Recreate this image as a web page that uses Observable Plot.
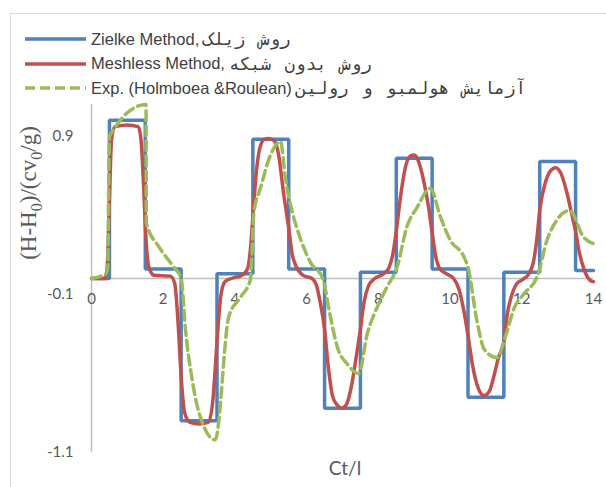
<!DOCTYPE html>
<html><head><meta charset="utf-8">
<script src="https://cdn.jsdelivr.net/npm/d3@7"></script>
<script src="https://cdn.jsdelivr.net/npm/@observablehq/plot@0.6"></script>
<style>
body{margin:0;background:#fff;}
#wrap{position:relative;width:606px;height:487px;overflow:hidden;background:#fff;}
#border{position:absolute;left:10px;top:13px;width:700px;height:600px;border:1.5px solid #d9d9d9;}
#chart{position:absolute;left:0;top:0;}
#legend{position:absolute;left:25px;top:27px;font-family:"Liberation Sans",Arial,sans-serif;font-size:16.5px;color:#404040;}
.row{height:24.5px;display:flex;align-items:center;white-space:nowrap;}
.row svg{margin-right:5px;flex:none;}
.fa{font-family:"DejaVu Sans Mono",monospace;font-size:17.5px;word-spacing:3px;padding-left:4px;}
#ytitle{position:absolute;left:31px;top:193px;transform:translate(-50%,-50%) rotate(-90deg);white-space:nowrap;font-family:"Liberation Serif","DejaVu Serif",serif;font-size:23px;color:#595959;}
#ytitle sub{font-size:70%;}
#xtitle{position:absolute;left:345px;top:467px;transform:translate(-50%,-50%);font-family:Lato,"Liberation Sans",sans-serif;font-size:19px;color:#595959;}
</style></head>
<body>
<div id="wrap">
  <div id="border"></div>
  <div id="chart"></div>
  <div id="legend"></div>
  <div id="ytitle">(H-H<sub>0</sub>)/(cv<sub>0</sub>/g)</div>
  <div id="xtitle">Ct/l</div>
</div>
<script>
// ---- data ----
const xTicks = [0, 2, 4, 6, 8, 10, 12, 14];
const yTicks = [0.9, -0.1, -1.1];
const seriesNames = [
  ["Zielke Method,", "روش زیلک"],
  ["Meshless Method,", "روش بدون شبکه"],
  ["Exp. (Holmboea &Roulean)", "آزمایش هولمبو و رولین"]
];
const seriesColors = ["#4F81BD", "#C0504D", "#9BBB59"];

// Zielke method: step boundaries and levels (step-after)
const zielkeX = [0, 0.5, 1.5, 2.5, 3.5, 4.5, 5.5, 6.5, 7.5, 8.5, 9.5, 10.5, 11.5, 12.5, 13.5, 14];
const zielkeY = [0, 1.0, 0.06, -0.9, 0.03, 0.88, 0.06, -0.82, 0.04, 0.76, 0.06, -0.75, 0.04, 0.74, 0.05, 0.05];

// Meshless method [x, y]
const meshless = [
  [0,0],[0.38,0],[0.44,0.08],[0.5,0.5],[0.56,0.88],[0.65,0.96],[1.0,0.97],[1.3,0.96],[1.38,0.88],[1.45,0.6],
  [1.52,0.25],[1.6,0.07],[1.75,0.02],[2.2,0.015],[2.32,-0.03],[2.42,-0.3],[2.5,-0.62],[2.6,-0.85],[2.75,-0.91],[3.0,-0.92],
  [3.25,-0.91],[3.38,-0.78],[3.5,-0.4],[3.6,-0.12],[3.72,-0.02],[3.9,0],[4.2,0.02],[4.35,0.06],[4.43,0.18],[4.5,0.39],
  [4.6,0.68],[4.7,0.83],[4.82,0.88],[4.95,0.885],[5.1,0.87],[5.22,0.78],[5.35,0.55],[5.5,0.32],[5.6,0.15],[5.7,0.08],
  [5.9,0.02],[6.15,0],[6.27,-0.04],[6.37,-0.14],[6.5,-0.32],[6.6,-0.55],[6.72,-0.74],[6.85,-0.8],[6.97,-0.82],[7.1,-0.8],
  [7.25,-0.68],[7.38,-0.5],[7.5,-0.32],[7.6,-0.15],[7.72,-0.05],[7.9,0],[8.15,0.03],[8.3,0.07],[8.4,0.15],[8.5,0.3],
  [8.62,0.52],[8.75,0.7],[8.9,0.775],[9.0,0.78],[9.12,0.74],[9.28,0.6],[9.4,0.45],[9.5,0.29],[9.6,0.14],[9.72,0.06],
  [9.9,0.03],[10.1,0],[10.25,-0.07],[10.38,-0.2],[10.5,-0.36],[10.62,-0.54],[10.78,-0.69],[10.94,-0.74],[11.1,-0.71],[11.22,-0.62],
  [11.35,-0.5],[11.5,-0.4],[11.6,-0.22],[11.7,-0.12],[11.87,-0.03],[12.0,-0.01],[12.2,0.03],[12.32,0.1],[12.42,0.25],[12.5,0.43],
  [12.65,0.6],[12.8,0.68],[12.94,0.70],[13.08,0.67],[13.25,0.55],[13.4,0.4],[13.5,0.3],[13.6,0.17],[13.75,0.05],[13.9,-0.01],
  [14,-0.02]
];

// Experiment (Holmboe & Rouleau) [x, y]
const experiment = [
  [0,0],[0.4,0.03],[0.45,0.06],[0.5,0.9],[1.52,1.1],[1.53,0.35],[1.88,0.2],[2.3,0.07],[2.5,0.0],[2.62,-0.32],
  [2.8,-0.63],[3.0,-0.85],[3.45,-1.02],[3.83,-0.24],[4.15,-0.12],[4.43,-0.01],[4.53,0.42],[4.71,0.57],[4.99,0.78],[5.27,0.865],
  [5.41,0.63],[5.6,0.42],[5.83,0.25],[6.11,0.1],[6.45,0.0],[6.66,-0.24],[6.85,-0.43],[7.13,-0.54],[7.45,-0.6],[7.69,-0.35],
  [7.97,-0.18],[8.25,-0.05],[8.52,0.07],[8.8,0.33],[9.08,0.45],[9.45,0.57],[9.73,0.39],[10.01,0.24],[10.38,0.14],[10.5,0.07],
  [10.75,-0.27],[10.96,-0.45],[11.31,-0.5],[11.54,-0.37],[11.8,-0.18],[12.05,-0.1],[12.45,0.025],[12.7,0.24],[12.98,0.37],[13.33,0.43],
  [13.73,0.26],[14.0,0.22]
];

// ---- chart ----
const zielke = zielkeX.map((x, i) => ({x, y: zielkeY[i]}));
const fmt = d => d.toFixed(1);
const tickFont = "Lato, 'Liberation Sans', sans-serif";

const chart = Plot.plot({
  width: 606, height: 487,
  marginLeft: 91, marginRight: 13, marginTop: 104, marginBottom: 35,
  x: {domain: [0, 14], axis: null},
  y: {domain: [-1.1, 1.1], axis: null},
  style: {background: "transparent", fontFamily: tickFont, overflow: "visible"},
  marks: [
    Plot.ruleY([0], {stroke: "#BFBFBF", strokeWidth: 1.5}),
    Plot.ruleX([0], {stroke: "#BFBFBF", strokeWidth: 1.5}),
    Plot.text(xTicks, {x: d => d, y: 0, dy: 21, text: d => String(d), fontSize: 15, fill: "#595959", fontFamily: tickFont}),
    Plot.text(yTicks, {x: 0, y: d => d, dx: -18, textAnchor: "end", text: fmt, fontSize: 15, fill: "#595959", fontFamily: tickFont}),
    Plot.line(zielke, {x: "x", y: "y", curve: "step-after", stroke: seriesColors[0], strokeWidth: 3.5, strokeLinejoin: "miter"}),
    Plot.line(meshless, {x: d => d[0], y: d => d[1], curve: "monotone-x", stroke: seriesColors[1], strokeWidth: 3.5}),
    Plot.line(experiment, {x: d => d[0], y: d => d[1], curve: "monotone-x", stroke: seriesColors[2], strokeWidth: 3.5, strokeDasharray: "10,5"})
  ]
});
document.getElementById("chart").appendChild(chart);

// ---- legend ----
const legend = document.getElementById("legend");
seriesNames.forEach((n, i) => {
  const row = document.createElement("div");
  row.className = "row";
  const dash = i === 2 ? ' stroke-dasharray="10,5"' : '';
  row.innerHTML = `<svg width="61" height="6"><line x1="0" y1="3" x2="61" y2="3" stroke="${seriesColors[i]}" stroke-width="3.5"${dash}/></svg><span>${n[0]}</span><span class="fa">${n[1]}</span>`;
  legend.appendChild(row);
});
</script>
</body></html>
